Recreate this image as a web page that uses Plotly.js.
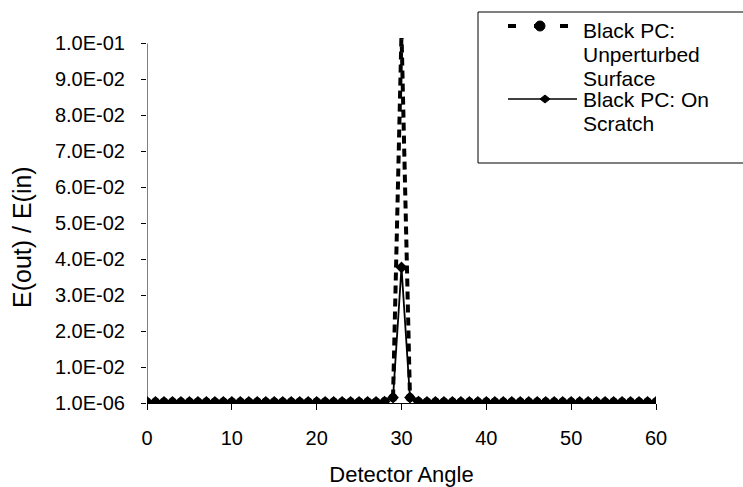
<!DOCTYPE html>
<html>
<head>
<meta charset="utf-8">
<script src="https://cdn.plot.ly/plotly-3.0.1.min.js"></script>
<style>html,body{margin:0;padding:0;background:#fff}#chart{width:743px;height:487px}</style>
</head>
<body>
<div id="chart"></div>
<script>
// ---- data ----
var detectorAngle = [0,1,2,3,4,5,6,7,8,9,10,11,12,13,14,15,16,17,18,19,20,21,22,23,24,25,26,27,28,29,30,31,32,33,34,35,36,37,38,39,40,41,42,43,44,45,46,47,48,49,50,51,52,53,54,55,56,57,58,59,60];
var unperturbed = [0.0003,0.0003,0.0003,0.0003,0.0003,0.0003,0.0003,0.0003,0.0003,0.0003,0.0003,0.0003,0.0003,0.0003,0.0003,0.0003,0.0003,0.0003,0.0003,0.0003,0.0003,0.0003,0.0003,0.0003,0.0003,0.0003,0.0003,0.0003,0.0004,0.0015,0.103,0.0015,0.0004,0.0003,0.0003,0.0003,0.0003,0.0003,0.0003,0.0003,0.0003,0.0003,0.0003,0.0003,0.0003,0.0003,0.0003,0.0003,0.0003,0.0003,0.0003,0.0003,0.0003,0.0003,0.0003,0.0003,0.0003,0.0003,0.0003,0.0003,0.0003];
var onScratch = [0.0003,0.0003,0.0003,0.0003,0.0003,0.0003,0.0003,0.0003,0.0003,0.0003,0.0003,0.0003,0.0003,0.0003,0.0003,0.0003,0.0003,0.0003,0.0003,0.0003,0.0003,0.0003,0.0003,0.0003,0.0003,0.0003,0.0003,0.0003,0.0004,0.0015,0.0377,0.0015,0.0004,0.0003,0.0003,0.0003,0.0003,0.0003,0.0003,0.0003,0.0003,0.0003,0.0003,0.0003,0.0003,0.0003,0.0003,0.0003,0.0003,0.0003,0.0003,0.0003,0.0003,0.0003,0.0003,0.0003,0.0003,0.0003,0.0003,0.0003,0.0003];
var seriesNames = ["Black PC: Unperturbed Surface", "Black PC: On Scratch"];
var legendLines1 = ["Black PC:", "Unperturbed", "Surface"];
var legendLines2 = ["Black PC: On", "Scratch"];
var xTickVals = [0,10,20,30,40,50,60];
var yTickVals = [0,0.01,0.02,0.03,0.04,0.05,0.06,0.07,0.08,0.09,0.1];
var yTickText = ["1.0E-06","1.0E-02","2.0E-02","3.0E-02","4.0E-02","5.0E-02","6.0E-02","7.0E-02","8.0E-02","9.0E-02","1.0E-01"];
var xTitle = "Detector Angle";
var yTitle = "E(out) / E(in)";

// ---- layout helpers (pixel -> paper) ----
var FW = 743, FH = 487, L = 147, R = 87, T = 38, B = 84;
var W = FW - L - R, H = FH - T - B;
function px(x){ return (x - L) / W; }
function py(y){ return (FH - B - y) / H; }
var FONT = "Liberation Sans, Arial, sans-serif";

var traces = [
  {x: detectorAngle, y: unperturbed, name: seriesNames[0], type: "scatter", mode: "lines+markers",
   line: {color: "#000", width: 4, dash: "8px,5px"},
   marker: {symbol: "circle", size: 9, color: "#000"}},
  {x: detectorAngle, y: onScratch, name: seriesNames[1], type: "scatter", mode: "lines+markers",
   line: {color: "#000", width: 1.8},
   marker: {symbol: "diamond", size: 9, color: "#000"}}
];

var shapes = [
  // y axis line (from 0 up to the 0.1 tick)
  {type: "line", xref: "x", yref: "y", x0: 0, x1: 0, y0: 0, y1: 0.1, line: {color: "#000", width: 1}},
  // legend box
  {type: "rect", xref: "paper", yref: "paper", x0: px(478), x1: px(745), y0: py(163), y1: py(12), line: {color: "#000", width: 1}, fillcolor: "rgba(255,255,255,1)"},
  // legend symbol 1
  {type: "line", xref: "paper", yref: "paper", x0: px(508), x1: px(570), y0: py(26), y1: py(26), line: {color: "#000", width: 4, dash: "8px,18px"}},
  {type: "circle", xref: "paper", yref: "paper", x0: px(535), x1: px(545), y0: py(31), y1: py(21), fillcolor: "#000", line: {color: "#000", width: 1}},
  // legend symbol 2
  {type: "line", xref: "paper", yref: "paper", x0: px(508), x1: px(577), y0: py(99), y1: py(99), line: {color: "#000", width: 1.5}},
  {type: "path", xref: "paper", yref: "paper",
   path: "M " + px(540) + "," + py(99) + " L " + px(545) + "," + py(95) + " L " + px(550) + "," + py(99) + " L " + px(545) + "," + py(103) + " Z",
   fillcolor: "#000", line: {color: "#000", width: 1}}
];

var annotations = [];
var ys1 = [30, 54, 78], ys2 = [100, 123];
legendLines1.forEach(function(t, i){
  annotations.push({xref: "paper", yref: "paper", x: px(581), y: py(ys1[i]), xanchor: "left", yanchor: "middle", text: t, showarrow: false, font: {family: FONT, size: 21, color: "#000"}});
});
legendLines2.forEach(function(t, i){
  annotations.push({xref: "paper", yref: "paper", x: px(581), y: py(ys2[i]), xanchor: "left", yanchor: "middle", text: t, showarrow: false, font: {family: FONT, size: 21, color: "#000"}});
});
// y title
annotations.push({xref: "paper", yref: "paper", x: px(22), y: py(237), xanchor: "center", yanchor: "middle", textangle: -90, text: yTitle, showarrow: false, font: {family: FONT, size: 25, color: "#000"}});

var layout = {
  width: FW, height: FH,
  margin: {l: L, r: R, t: T, b: B, pad: 0},
  paper_bgcolor: "#fff", plot_bgcolor: "#fff",
  showlegend: false,
  font: {family: FONT, color: "#000", size: 20},
  xaxis: {
    range: [0, 60], tickvals: xTickVals, ticktext: xTickVals.map(String),
    showgrid: false, zeroline: false, showline: true, linecolor: "#000", linewidth: 1,
    ticks: "outside", ticklen: 6, tickcolor: "#000", tickwidth: 1,
    tickfont: {family: FONT, size: 20, color: "#000"}, ticklabelstandoff: 11,
    title: {text: xTitle, font: {family: FONT, size: 22, color: "#000"}, standoff: 24}
  },
  yaxis: {
    range: [0, 0.1015], tickvals: yTickVals, ticktext: yTickText,
    showgrid: false, zeroline: false, showline: false,
    ticks: "outside", ticklen: 5, tickcolor: "#000", tickwidth: 1,
    tickfont: {family: FONT, size: 20, color: "#000"}, ticklabelstandoff: 12
  },
  shapes: shapes,
  annotations: annotations
};

Plotly.newPlot("chart", traces, layout, {displayModeBar: false, staticPlot: true});
</script>
</body>
</html>
